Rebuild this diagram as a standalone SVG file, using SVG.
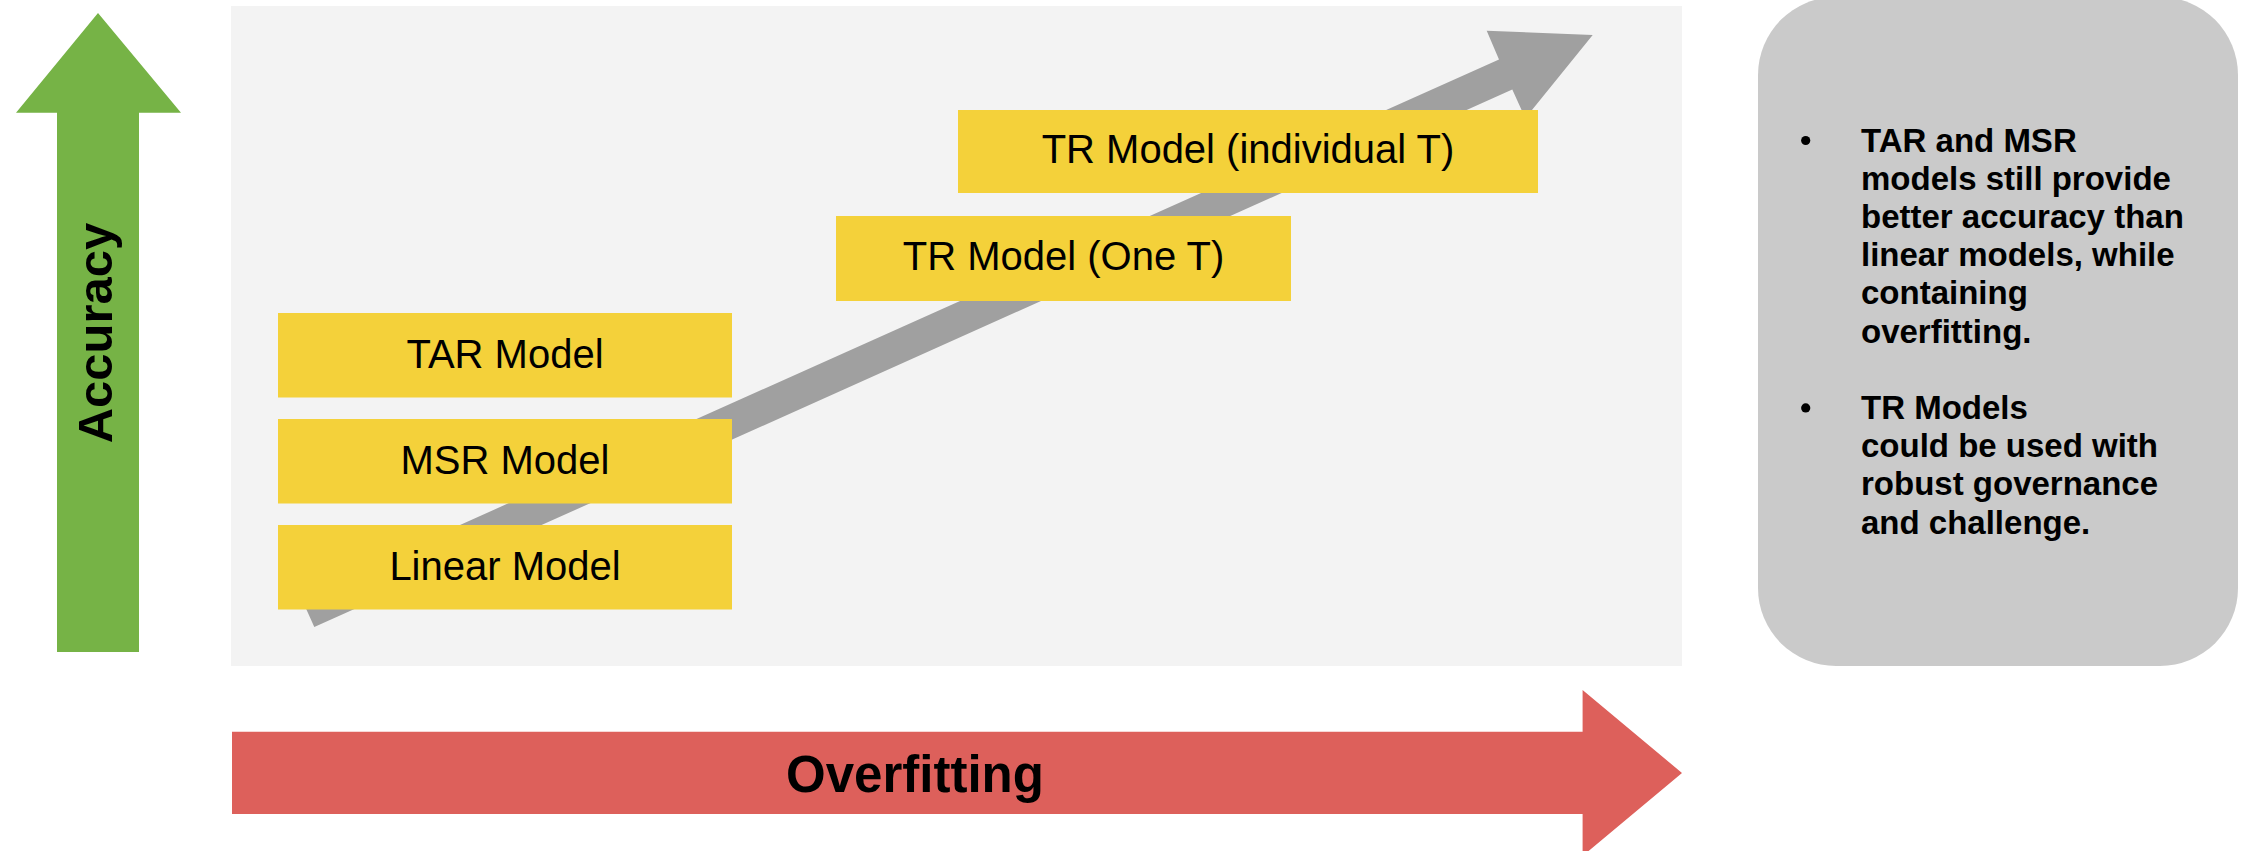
<svg xmlns="http://www.w3.org/2000/svg" width="2246" height="851" viewBox="0 0 2246 851">
  <style>
    .box { fill: #f4d13a; }
    .box-label { font-family: "Liberation Sans", Arial, sans-serif; font-size: 40px; fill: #000; text-anchor: middle; }
    .axis-label { font-family: "Liberation Sans", Arial, sans-serif; font-weight: bold; fill: #000; text-anchor: middle; }
    .note { font-family: "Liberation Sans", Arial, sans-serif; font-weight: bold; font-size: 33px; fill: #000; }
    .bullet { fill: #000; }
  </style>

  <rect width="2246" height="851" fill="#ffffff"/>

  <!-- chart area -->
  <rect id="panel" x="231" y="6" width="1451" height="660" fill="#f3f3f3"/>

  <!-- vertical axis: accuracy -->
  <g id="accuracy-axis">
    <polygon points="98,13 181,112.7 139,112.7 139,652 57,652 57,112.7 16,112.7" fill="#76b346"/>
    <text class="axis-label" font-size="49" transform="translate(112,333) rotate(-90)">Accuracy</text>
  </g>

  <!-- horizontal axis: overfitting -->
  <g id="overfitting-axis">
    <polygon points="232,731.7 1582.6,731.7 1582.6,690 1682,773 1582.6,856 1582.6,814 232,814" fill="#dd605b"/>
    <text class="axis-label" font-size="51" x="915" y="792">Overfitting</text>
  </g>

  <!-- rising trend arrow behind the model boxes -->
  <g id="connectors">
    <polygon points="300.6,596.4 1499,59.5 1486.7,30.7 1592.7,35 1525.3,118.3 1512.3,89.5 314.3,627" fill="#a0a0a0"/>
  </g>

  <g id="linear-model">
    <rect class="box" x="278" y="525" width="454" height="84.5"/>
    <text class="box-label" x="505" y="579.5">Linear Model</text>
  </g>
  <g id="msr-model">
    <rect class="box" x="278" y="419" width="454" height="84.5"/>
    <text class="box-label" x="505" y="474.3">MSR Model</text>
  </g>
  <g id="tar-model">
    <rect class="box" x="278" y="313" width="454" height="84.5"/>
    <text class="box-label" x="505" y="368.3">TAR Model</text>
  </g>
  <g id="tr-model-one-t">
    <rect class="box" x="836" y="216" width="455" height="85"/>
    <text class="box-label" x="1063.5" y="269.5">TR Model (One T)</text>
  </g>
  <g id="tr-model-individual-t">
    <rect class="box" x="958" y="110" width="580" height="83"/>
    <text class="box-label" x="1248" y="163.3">TR Model (individual T)</text>
  </g>

  <!-- commentary panel -->
  <g id="notes">
    <rect x="1758" y="-3" width="480" height="669" rx="78" ry="78" fill="#cacaca"/>
    <circle class="bullet" cx="1805.7" cy="140.5" r="4.6"/>
    <circle class="bullet" cx="1805.7" cy="407.9" r="4.6"/>
    <text class="note">
      <tspan x="1861" y="151.5">TAR and MSR</tspan>
      <tspan x="1861" y="189.7">models still provide</tspan>
      <tspan x="1861" y="227.9">better accuracy than</tspan>
      <tspan x="1861" y="266.1">linear models, while</tspan>
      <tspan x="1861" y="304.3">containing</tspan>
      <tspan x="1861" y="342.5">overfitting.</tspan>
      <tspan x="1861" y="418.9">TR Models</tspan>
      <tspan x="1861" y="457.1">could be used with</tspan>
      <tspan x="1861" y="495.3">robust governance</tspan>
      <tspan x="1861" y="533.5">and challenge.</tspan>
    </text>
  </g>
</svg>
